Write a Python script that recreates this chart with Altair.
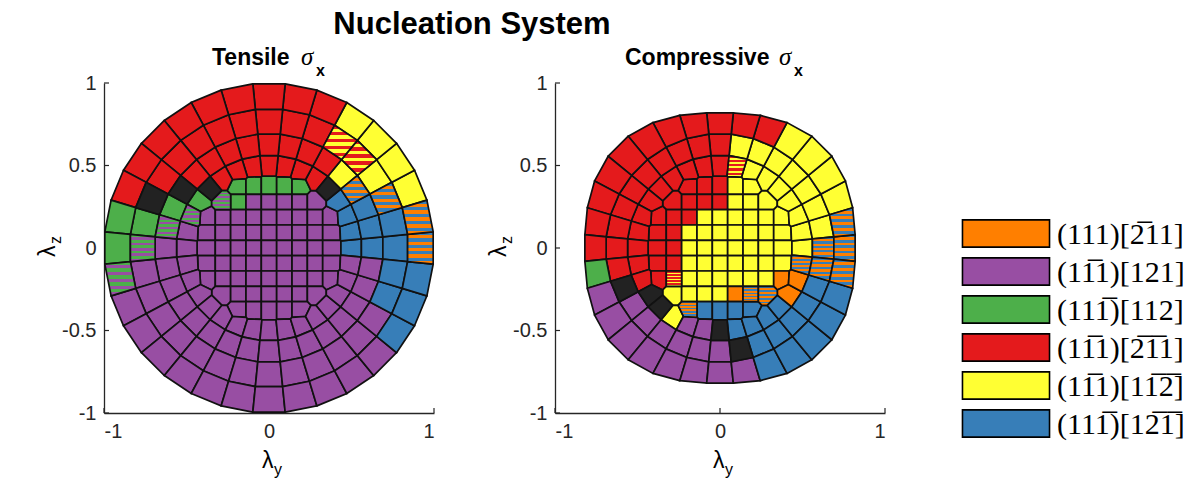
import math
import pandas as pd
import altair as alt

# ---------------- slip systems (legend order) ----------------
SYSTEMS = [
    "(111)[2\u030511]",
    "(11\u03051)[121]",
    "(111\u0305)[112]",
    "(11\u03051)[2\u03051\u03051]",
    "(11\u03051)[11\u03052\u0305]",
    "(111\u0305)[12\u03051\u0305]",
]
CODES = ["O", "P", "G", "R", "Y", "B"]
COLORS = ["#FF7F00", "#984EA3", "#4DAF4A", "#E41A1C", "#FFFF33", "#377EB8"]
TIE_COLOR = "#222222"                      # K: no unique system
STRIPES = {                                 # two systems tied
    "y": ("#E41A1C", "#FFFF33"),
    "o": ("#377EB8", "#FF7F00"),
    "g": ("#4DAF4A", "#984EA3"),
}

# ---------------- grain mesh in (lambda_y, lambda_z) ----------------
CORE_STEP = 0.093          # square lattice spacing at the centre
CORE_HALF = 4              # lattice rows/cols run from -4..4
RING_COUNT = 32            # grains per outer ring, first one at angle 0
RING_RADII_TENSILE = [0.50, 0.62, 0.76, 0.92]
RING_RADII_COMPRESSIVE = [0.50, 0.62, 0.76]
COMPRESSIVE_EDGE = (0.82, 2.5)   # half-width and exponent of the rounded outline

# nucleation system of every grain: core rows top (j=4) to bottom (j=-4),
# columns lambda_y = -4..4 steps; rings listed counter-clockwise from +lambda_y
TENSILE_CORE = [
    "..GGGGG..",
    ".gGPPPPP.",
    "PPPPPPPPP",
    "PPPPPPPPP",
    "PPPPPPPPP",
    "PPPPPPPPP",
    "PPPPPPPPP",
    ".PPPPPPP.",
    "..PPPPP..",
]
TENSILE_RINGS = [
    "BBBBKRRRRRRRKGgPPPPPPPPPPPPPPPPP",
    "BBBoYRRRRRRRRKGgPPPPPPPPPPPPPPPP",
    "BBoYyyRRRRRRRRKGgPPPPPPPPPPPPPBB",
    "ooYYYYRRRRRRRRRGGgPPPPPPPPPPPBBB",
]
COMPRESSIVE_CORE = [
    "..RRRYY..",
    ".RRRRYYY.",
    "RRRYYYYYY",
    "RRYYYYYYY",
    "RRYYYYYYY",
    "RRYYYYYYY",
    "RyYYYYYYO",
    ".YYYYOoo.",
    "..oBBBB..",
]
COMPRESSIVE_RINGS = [
    "YYYYYYYyRRRRRRRRRRRKKYPPKBBBBOOo",
    "oYYYYYYYRRRRRRRRRRKPPPPPPKBBBBBo",
    "ooYYYYRRRRRRRRRRRGPPPPPPPPBBBBBo",
]

X_TICKS = [-1, 0, 1]
Y_TICKS = [-1, -0.5, 0, 0.5, 1]

SIZE = 330                 # plot area, pixels
SCALE = SIZE / 2           # pixels per lambda unit
EDGE = "#111111"
AXIS = "#262626"
LINE_W = 1.7


def core_seeds(rows):
    pts = []
    for r, row in enumerate(rows):
        j = CORE_HALF - r
        for c, code in enumerate(row):
            if code != ".":
                pts.append(((c - CORE_HALF) * CORE_STEP, j * CORE_STEP, code))
    return pts


def ring_seeds(radii, rows):
    pts = []
    for rad, row in zip(radii, rows):
        assert len(row) == RING_COUNT
        for k, code in enumerate(row):
            a = 2 * math.pi * k / RING_COUNT
            pts.append((rad * math.cos(a), rad * math.sin(a), code))
    return pts


def outline(radius_at):
    pts = []
    for k in range(RING_COUNT):
        a = 2 * math.pi * (k + 0.5) / RING_COUNT
        r = radius_at(a)
        pts.append((r * math.cos(a), r * math.sin(a)))
    return pts


def superellipse(a):
    half, n = COMPRESSIVE_EDGE
    return half / (abs(math.cos(a)) ** n + abs(math.sin(a)) ** n) ** (1 / n)


def clip(poly, a, b, c):
    out = []
    for i in range(len(poly)):
        p, q = poly[i], poly[(i + 1) % len(poly)]
        fp = a * p[0] + b * p[1] - c
        fq = a * q[0] + b * q[1] - c
        if fp <= 0:
            out.append(p)
        if (fp < 0 < fq) or (fq < 0 < fp):
            t = fp / (fp - fq)
            out.append((p[0] + t * (q[0] - p[0]), p[1] + t * (q[1] - p[1])))
    return out


def voronoi(seeds, boundary):
    cells = []
    for i, (x, y, code) in enumerate(seeds):
        poly = list(boundary)
        for j, (u, v, _) in enumerate(seeds):
            if i == j:
                continue
            dx, dy = u - x, v - y
            if dx * dx + dy * dy > 0.3:
                continue
            poly = clip(poly, dx, dy, (u * u + v * v - x * x - y * y) / 2)
            if not poly:
                break
        if len(poly) >= 3:
            cells.append((poly, code))
    return cells


def features(cells, keep):
    out = []
    for poly, code in cells:
        if code not in keep:
            continue
        ring = [[round(px, 5), round(py, 5)] for px, py in poly]
        ring.append(ring[0])
        props = {"code": code}
        if code in CODES:
            props["system"] = SYSTEMS[CODES.index(code)]
        out.append({"type": "Feature", "properties": props,
                    "geometry": {"type": "Polygon", "coordinates": [ring]}})
    return out


def stripe_fill(pair, bands=10):
    stops = []
    for k in range(bands):
        col = pair[k % 2]
        stops.append(alt.GradientStop(offset=k / bands, color=col))
        stops.append(alt.GradientStop(offset=(k + 1) / bands, color=col))
    return alt.Gradient(gradient="linear", x1=0, x2=0, y1=0, y2=1, stops=stops)


def text(t, x, y, size, font="Liberation Sans", weight="normal", style="normal",
         angle=0, align="left"):
    return alt.Chart(pd.DataFrame({"t": [t]})).mark_text(
        align=align, baseline="alphabetic", font=font, fontSize=size,
        fontWeight=weight, fontStyle=style, angle=angle, color="black"
    ).encode(x=alt.value(x), y=alt.value(y), text="t:N")


FILL = alt.Scale(domain=SYSTEMS, range=COLORS)


def panel(cells, word, word_x, sigma_x, extra=()):
    proj = dict(type="identity", reflectY=True, scale=SCALE, translate=[SCALE, SCALE])
    xscale = alt.Scale(domain=[-1, 1], nice=False, zero=False)
    yscale = alt.Scale(domain=[-1, 1], nice=False, zero=False)

    xt = alt.Chart(pd.DataFrame({"v": X_TICKS})).mark_rule(color=AXIS, strokeWidth=1.2).encode(
        x=alt.X("v:Q", scale=xscale, title=None,
                axis=alt.Axis(values=X_TICKS, labelExpr="datum.value + ''")),
        y=alt.value(SIZE), y2=alt.value(SIZE - 5))
    yt = alt.Chart(pd.DataFrame({"v": Y_TICKS})).mark_rule(color=AXIS, strokeWidth=1.2).encode(
        y=alt.Y("v:Q", scale=yscale, title=None,
                axis=alt.Axis(values=Y_TICKS, labelExpr="datum.value + ''")),
        x=alt.value(0), x2=alt.value(5))

    solid = alt.Chart(alt.Data(values=features(cells, CODES))).mark_geoshape(
        stroke=EDGE, strokeWidth=LINE_W
    ).encode(
        fill=alt.Fill("properties.system:N", scale=FILL, legend=None)
    ).project(**proj)
    ties = alt.Chart(alt.Data(values=features(cells, ["K"]))).mark_geoshape(
        fill=TIE_COLOR, stroke=EDGE, strokeWidth=LINE_W).project(**proj)
    striped = [
        alt.Chart(alt.Data(values=features(cells, [k]))).mark_geoshape(
            fill=stripe_fill(pair), stroke=EDGE, strokeWidth=LINE_W).project(**proj)
        for k, pair in STRIPES.items()
    ]

    labels = [
        text(word, word_x, -18.5, 23, weight="bold"),
        text("\u03c3", sigma_x, -18.5, 25, font="Liberation Serif", style="italic"),
        text("x", sigma_x + 15, -7, 16, weight="bold"),
        text("\u03bb", SIZE / 2 - 7, 385, 23),
        text("y", SIZE / 2 + 5, 392, 16),
        text("\u03bb", -49, SIZE / 2 + 9, 23, angle=270),
        text("z", -43, SIZE / 2 - 4, 16, angle=270),
    ]
    return alt.layer(xt, yt, solid, ties, *striped, *labels, *extra).properties(
        width=SIZE, height=SIZE)


tensile_cells = voronoi(core_seeds(TENSILE_CORE) + ring_seeds(RING_RADII_TENSILE, TENSILE_RINGS),
                        outline(lambda a: 1.0))
compressive_cells = voronoi(core_seeds(COMPRESSIVE_CORE) + ring_seeds(RING_RADII_COMPRESSIVE, COMPRESSIVE_RINGS),
                            outline(superellipse))

left = panel(tensile_cells, "Tensile", 108, 197,
             extra=[text("Nucleation System", 472 - 104, -49, 31, weight="bold", align="center")])
right = panel(compressive_cells, "Compressive", 70, 224)

# legend: one box and one label per slip system
key_rows = alt.Scale(type="point", domain=SYSTEMS, range=[150.5, 340.5], padding=0)
key_data = pd.DataFrame({"system": SYSTEMS})
key_boxes = alt.Chart(key_data).mark_point(
    shape="M-3.2,-1H3.2V1H-3.2Z", size=740, filled=True, opacity=1,
    stroke="black", strokeWidth=1.6
).encode(
    x=alt.value(0),
    y=alt.Y("system:N", sort=SYSTEMS, scale=key_rows, axis=None),
    fill=alt.Fill("system:N", scale=FILL, legend=None),
)
key_labels = alt.Chart(key_data).mark_text(
    align="left", baseline="middle", font="Liberation Serif", fontSize=30, color="black", dy=1
).encode(
    x=alt.value(51),
    y=alt.Y("system:N", sort=SYSTEMS, scale=key_rows, axis=None),
    text="system:N",
)
key = alt.layer(key_boxes, key_labels).properties(width=180, height=SIZE)

chart = alt.hconcat(left, right, key, spacing=121, bounds="flush").resolve_scale(
    x="independent", y="independent"
).configure_view(strokeWidth=0).configure_axis(
    grid=False, ticks=False, domainColor=AXIS, domainWidth=1.3,
    labelFont="Liberation Sans", labelFontSize=20, labelColor=AXIS, labelPadding=8,
).properties(
    padding={"left": 37, "top": 9, "right": 5, "bottom": 5}, background="white"
)

chart.save("out.html", embed_options={"renderer": "svg", "actions": False})
